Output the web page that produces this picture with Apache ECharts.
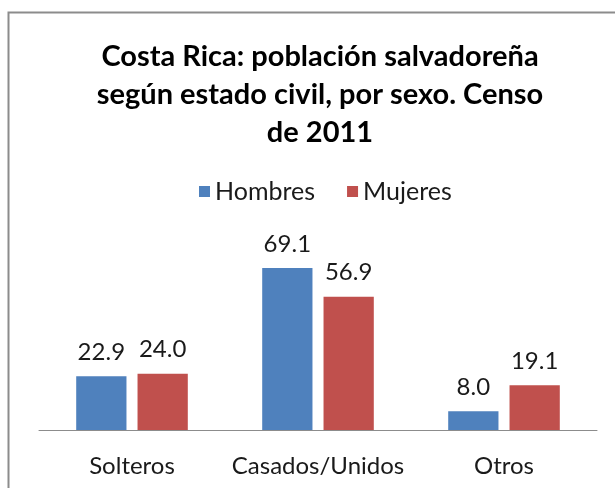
<!DOCTYPE html>
<html>
<head>
<meta charset="utf-8">
<script src="https://cdn.jsdelivr.net/npm/echarts@6/dist/echarts.min.js"></script>
<style>
  html, body { margin: 0; padding: 0; background: #fff; }
  #chart { width: 615px; height: 488px; }
</style>
</head>
<body>
<div id="chart"></div>
<script>
const categories = ['Solteros', 'Casados/Unidos', 'Otros']
const hombres = [22.9, 69.1, 8.0]
const mujeres = [24.0, 56.9, 19.1]
const seriesNames = ['Hombres', 'Mujeres']

let mychart = echarts.init(document.getElementById('chart'))
const font = 'Lato, "Open Sans", sans-serif'
const label = {
  show: true,
  position: 'top',
  distance: 12,
  color: '#1a1a1a',
  fontSize: 24,
  fontFamily: font,
  formatter: p => p.value.toFixed(1)
}
let option = {
  animation: false,
  color: ['#4F81BD', '#C0504D'],
  title: {
    text: 'Costa Rica: población salvadoreña\nsegún estado civil, por sexo. Censo\nde 2011',
    left: 315,
    textAlign: 'center',
    top: 33,
    textStyle: {
      fontFamily: font,
      fontWeight: 'bold',
      fontSize: 29,
      lineHeight: 38,
      color: '#000'
    }
  },
  legend: {
    data: seriesNames,
    top: 174,
    left: 194,
    icon: 'rect',
    itemWidth: 11,
    itemHeight: 11,
    itemGap: 32,
    itemStyle: { borderWidth: 0 },
    textStyle: { fontFamily: font, fontSize: 25, color: '#1a1a1a' }
  },
  grid: { left: 39, right: 18, top: 242.5, bottom: 58 },
  xAxis: {
    type: 'category',
    data: categories,
    axisLine: { lineStyle: { color: '#8c8c8c', width: 1 } },
    axisTick: { show: false },
    axisLabel: { interval: 0, fontFamily: font, fontSize: 24, color: '#1a1a1a', margin: 24 }
  },
  yAxis: { type: 'value', min: 0, max: 80, show: false },
  graphic: [{
    type: 'rect',
    shape: { x: 8.5, y: 12.5, width: 700, height: 600 },
    style: { fill: 'none', stroke: '#8c8c8c', lineWidth: 2 },
    silent: true
  }],
  series: [
    { name: seriesNames[0], type: 'bar', data: hombres, barGap: '22%', barCategoryGap: '40%', label: label },
    { name: seriesNames[1], type: 'bar', data: mujeres, label: label }
  ]
}
mychart.setOption(option)
</script>
</body>
</html>
